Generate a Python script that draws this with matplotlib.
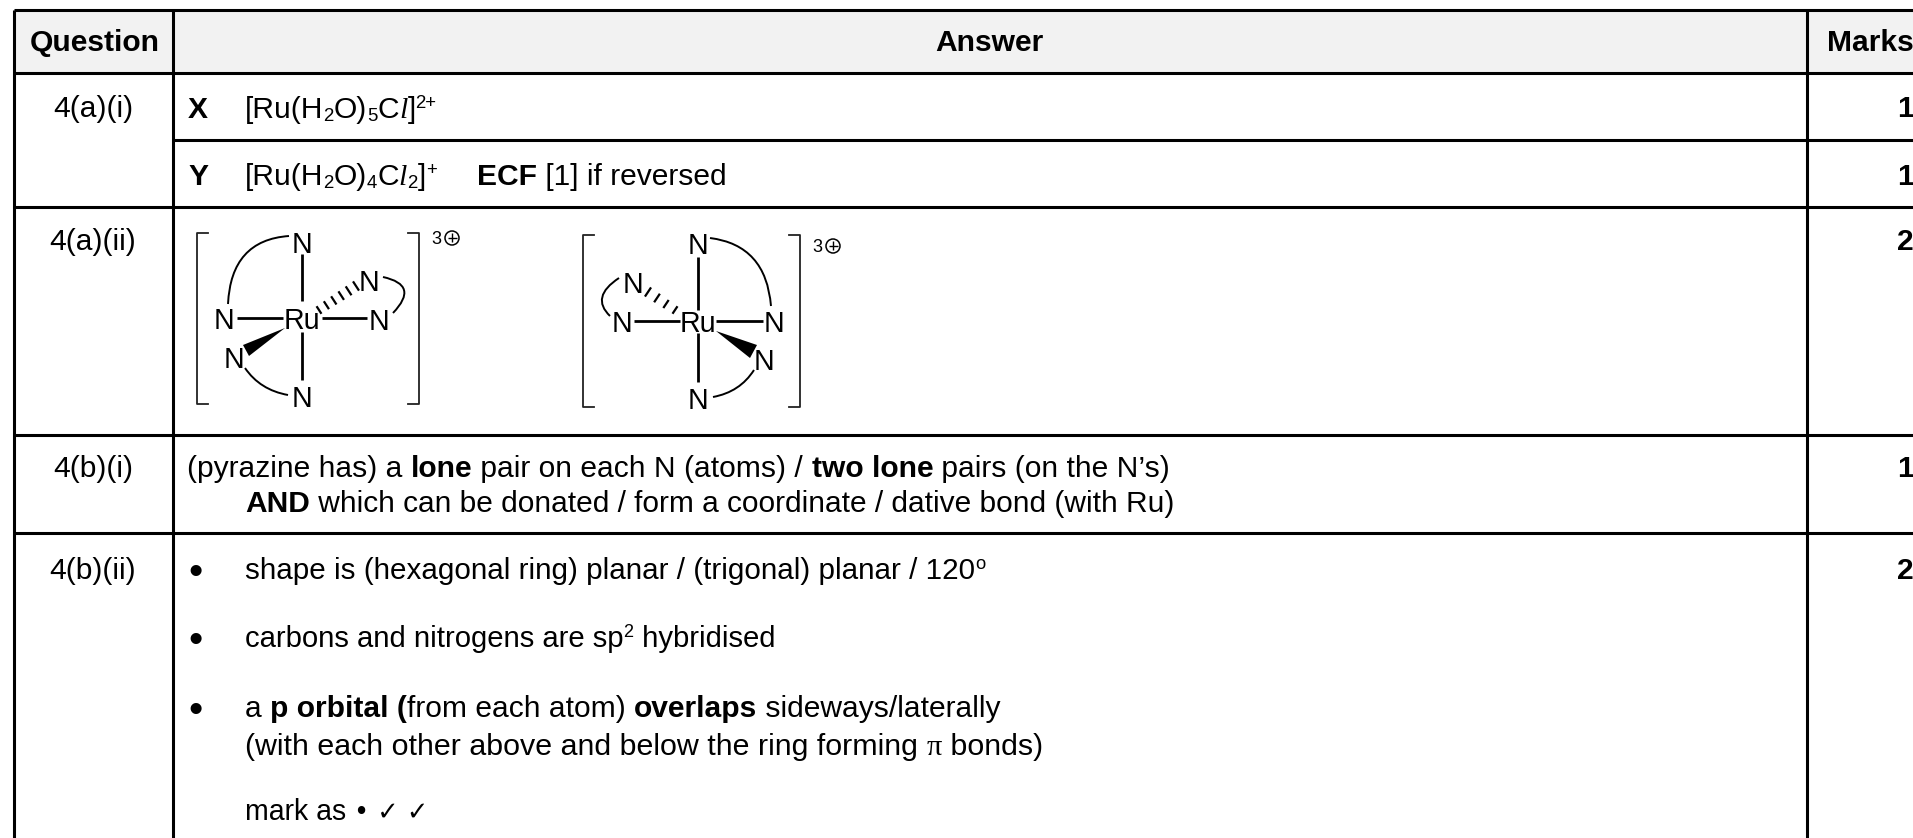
import matplotlib
matplotlib.use('Agg')
import matplotlib.pyplot as plt
from matplotlib.path import Path
from matplotlib.patches import PathPatch, Polygon, Rectangle, Circle
import numpy as np

W = 1913
H = 838
BODY = 21.6
LABEL = 20.6

col_edges = [14, 173, 1807]
row_edges = [10, 73, 140, 207, 435, 533]

headers = ['Question', 'Answer', 'Marks']
header_x = [94.5, 989, 1870]
header_y = 51

questions = ['4(a)(i)', '4(a)(ii)', '4(b)(i)', '4(b)(ii)']
question_y = [117, 250, 477, 579]
marks = ['1', '1', '2', '1', '2']
marks_y = [117, 185, 250, 477, 579]

B = dict(weight='bold')
SUB = dict(scale=0.62, rise=-3)
SUP = dict(scale=0.62, rise=10)
SCRIPT = dict(family='Liberation Serif', style='italic')

# x, baseline, size factor, runs
answer_lines = [
    (188, 118, 1, [('X', B)]),
    (245, 118, 1, [('[Ru(H', {}), ('2', SUB), ('O)', {}), ('5', SUB), ('C', {}), ('l', SCRIPT),
                   (']', {}), ('2+', SUP)]),
    (188, 185, 1, [('Y', B)]),
    (245, 185, 1, [('[Ru(H', {}), ('2', SUB), ('O)', {}), ('4', SUB), ('C', {}), ('l', SCRIPT),
                   ('2', SUB), (']', {}), ('+', SUP)]),
    (477, 185, 1, [('ECF', B), (' [1] if reversed', {})]),
    (187, 477, 1, [('(pyrazine has) a ', {}), ('lone', B),
                   (' pair on each N (atoms) / ', {}), ('two lone', B),
                   (' pairs (on the N\u2019s)', {})]),
    (245, 512, 0.996, [('AND', B),
                       (' which can be donated / form a coordinate / dative bond (with Ru)', {})]),
    (245, 579, 0.987, [('shape is (hexagonal ring) planar / (trigonal) planar / 120', {}), ('o', SUP)]),
    (245, 647, 0.973, [('carbons and nitrogens are sp', {}), ('2', SUP), (' hybridised', {})]),
    (245, 717, 1, [('a ', {}), ('p orbital (', B), ('from each atom) ', {}),
                   ('overlaps', B), (' sideways/laterally', {})]),
    (245, 755, 1.012, [('(with each other above and below the ring forming ', {}),
                       ('\u03c0', dict(family='Liberation Serif')), (' bonds)', {})]),
    (245, 820, 0.95, [('mark as ', {}), ('\u2022 \u2713 \u2713', dict(family='DejaVu Sans', scale=0.9))]),
]
bullet_y = [579, 647, 717]

plt.rcParams['font.family'] = ['Liberation Sans', 'DejaVu Sans']

fig = plt.figure(figsize=(W / 100, H / 100), dpi=100)
ax = fig.add_axes([0, 0, 1, 1])
ax.set_xlim(0, W)
ax.set_ylim(H, 0)
ax.axis('off')
renderer = fig.canvas.get_renderer()


def advance(s, **kw):
    # trailing spaces are not measured, so measure against a bar
    a = ax.text(0, 0, s + '|', **kw)
    b = ax.text(0, 0, '|', **kw)
    w = a.get_window_extent(renderer).width - b.get_window_extent(renderer).width
    a.remove()
    b.remove()
    return w


def runs(x, y, factor, parts):
    for s, st in parts:
        st = dict(st)
        scale = st.pop('scale', 1)
        rise = st.pop('rise', 0)
        kw = dict(fontsize=BODY * factor * scale, color='black', **st)
        ax.text(x, y - rise, s, ha='left', va='baseline', **kw)
        x += advance(s, **kw)


# header band
ax.add_patch(Rectangle((col_edges[0], row_edges[0]), W - col_edges[0], row_edges[1] - row_edges[0],
                       fc='#f2f2f2', ec='none', zorder=0))

# grid
lw = 2.2
ax.plot([col_edges[0], W], [row_edges[0]] * 2, 'k', lw=lw, solid_capstyle='butt')
for i in range(1, len(row_edges)):
    x0 = col_edges[1] if row_edges[i] == 140 else col_edges[0]
    ax.plot([x0, W], [row_edges[i]] * 2, 'k', lw=lw, solid_capstyle='butt')
for c in col_edges:
    ax.plot([c, c], [row_edges[0], H], 'k', lw=lw, solid_capstyle='butt')

for t, x in zip(headers, header_x):
    ax.text(x, header_y, t, ha='center', va='baseline', fontsize=BODY, weight='bold')
for t, y in zip(questions, question_y):
    ax.text(93, y, t, ha='center', va='baseline', fontsize=BODY)
for t, y in zip(marks, marks_y):
    ax.text(W + 1, y, t, ha='right', va='baseline', fontsize=BODY, weight='bold')
for x, y, factor, parts in answer_lines:
    runs(x, y, factor, parts)
for y in bullet_y:
    ax.text(195, y + 5, '\u2022', ha='center', va='baseline', fontsize=BODY * 1.35)


def bond(p, q, w=2.0):
    ax.plot([p[0], q[0]], [p[1], q[1]], 'k', lw=w, solid_capstyle='butt')


def arc(p, c, q):
    ax.add_patch(PathPatch(Path([p, c, q], [Path.MOVETO, Path.CURVE3, Path.CURVE3]),
                           fc='none', ec='black', lw=1.4))


def hashes(p, q, n, w0, w1):
    p = np.array(p, float)
    q = np.array(q, float)
    d = (q - p) / np.hypot(*(q - p))
    nrm = np.array([-d[1], d[0]])
    for t, w in zip(np.linspace(0, 1, n), np.linspace(w0, w1, n)):
        c = p + (q - p) * t
        bond(c - nrm * w, c + nrm * w, 1.6)


def bracket(x, y0, y1, serif):
    ax.plot([x + serif, x, x, x + serif], [y0, y0, y1, y1], color='#222222', lw=1.3)


def charge(x, y):
    ax.text(x, y + 6, '3', fontsize=13, ha='center', va='baseline')
    ax.add_patch(Circle((x + 16, y), 7, fc='white', ec='black', lw=1.1))
    bond((x + 11.5, y), (x + 20.5, y), 1.0)
    bond((x + 16, y - 4.5), (x + 16, y + 4.5), 1.0)


def label(x, y, t='N'):
    ax.text(x, y, t, fontsize=LABEL, ha='center', va='center_baseline')


# first isomer
for p in [(301.7, 241.5), (224, 318), (379, 319), (369, 280), (234, 357), (301.7, 396)]:
    label(*p)
label(302, 318, 'Ru')
bracket(197, 233, 404, 11)
bracket(419, 233, 404, -11)
charge(436, 238)
bond((301.7, 254), (301.7, 301))
bond((301.7, 332), (301.7, 380))
bond((237, 318), (283, 318))
bond((322, 318), (367, 318))
ax.add_patch(Polygon([(285, 328), (243, 345), (249, 356)], fc='black', ec='none'))
hashes((319, 310), (356, 286), 6, 4.5, 5.5)
arc((289, 236), (231, 240), (228, 304))
arc((383, 277), (420, 285), (393, 313))
arc((245, 368), (260, 390), (288, 395))

# second isomer
for p in [(698, 243), (622, 321), (774, 321), (633, 282), (764, 359), (698, 398)]:
    label(*p)
label(698, 321, 'Ru')
bracket(583, 235, 407, 11)
bracket(800, 235, 407, -11)
charge(817, 246)
bond((698, 257), (698, 310))
bond((698, 333), (698, 382))
bond((634, 321), (680, 321))
bond((716, 321), (763, 321))
ax.add_patch(Polygon([(716, 331), (757, 345), (750, 358)], fc='black', ec='none'))
hashes((675, 310), (648, 292), 4, 4.5, 5.5)
arc((710, 238), (766, 245), (771, 306))
arc((619, 278), (590, 297), (610, 316))
arc((754, 370), (740, 392), (713, 397))

fig.savefig('out.png', dpi=100)
